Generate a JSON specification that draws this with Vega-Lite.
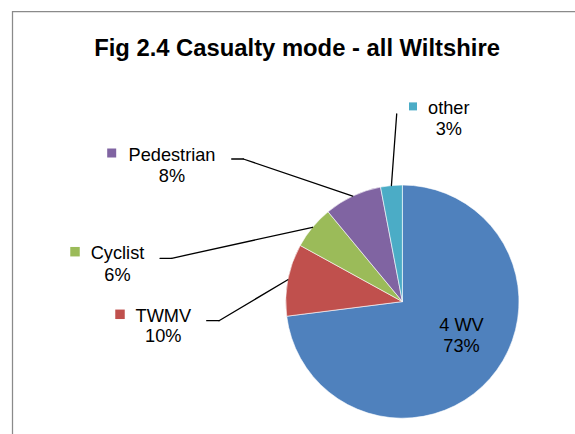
{
  "$schema": "https://vega.github.io/schema/vega-lite/v6.json",
  "width": 575,
  "height": 434,
  "autosize": {"type": "none"},
  "padding": 0,
  "background": "#ffffff",
  "title": {
    "text": "Fig 2.4 Casualty mode - all Wiltshire",
    "font": "Liberation Sans",
    "fontSize": 23.8,
    "fontWeight": "bold",
    "color": "#000000",
    "anchor": "middle",
    "frame": "group",
    "baseline": "alphabetic",
    "offset": -79.6,
    "dx": 9.5
  },
  "data": {
    "values": [
      {"mode": "4 WV", "share": 0.73, "order": 1},
      {"mode": "TWMV", "share": 0.10, "order": 2},
      {"mode": "Cyclist", "share": 0.06, "order": 3},
      {"mode": "Pedestrian", "share": 0.08, "order": 4},
      {"mode": "other", "share": 0.03, "order": 5}
    ]
  },
  "layer": [
    {
      "transform": [{"filter": "datum.order === 1"}],
      "mark": {"type": "rect", "fill": null, "stroke": "#8a8a8a", "strokeWidth": 1.25},
      "encoding": {
        "x": {"datum": -3.3428, "type": "quantitative", "scale": {"domain": [-3.45, 1.48], "nice": false, "zero": false}, "axis": null},
        "y": {"datum": 2.4874, "type": "quantitative", "scale": {"domain": [-1.135, 2.586], "nice": false, "zero": false}, "axis": null},
        "x2": {"datum": 1.6},
        "y2": {"datum": -1.25}
      }
    },
    {
      "mark": {"type": "arc", "outerRadius": 116.6, "stroke": "#ffffff", "strokeWidth": 0.6},
      "encoding": {
        "x": {"datum": 0, "type": "quantitative"},
        "y": {"datum": 0, "type": "quantitative"},
        "theta": {"field": "share", "type": "quantitative", "stack": true},
        "order": {"field": "order", "type": "quantitative"},
        "color": {
          "field": "mode",
          "type": "nominal",
          "scale": {"domain": ["4 WV", "TWMV", "Cyclist", "Pedestrian", "other"], "range": ["#4F81BD", "#C0504D", "#9BBB59", "#8064A2", "#4BACC6"]},
          "legend": null
        }
      }
    },
    {
      "transform": [{"filter": "datum.mode === 'other'"}],
      "mark": {"type": "rule", "color": "#000000", "strokeWidth": 1.3, "strokeCap": "round"},
      "encoding": {
        "x": {"datum": -0.0487, "type": "quantitative"},
        "y": {"datum": 1.6086, "type": "quantitative"},
        "x2": {"datum": -0.0941},
        "y2": {"datum": 0.9956}
      }
    },
    {
      "transform": [{"filter": "datum.mode === 'Pedestrian'"}],
      "mark": {"type": "rule", "color": "#000000", "strokeWidth": 1.3, "strokeCap": "round"},
      "encoding": {
        "x": {"datum": -1.4634, "type": "quantitative"},
        "y": {"datum": 1.2228, "type": "quantitative"},
        "x2": {"datum": -1.3639},
        "y2": {"datum": 1.2228}
      }
    },
    {
      "transform": [{"filter": "datum.mode === 'Pedestrian'"}],
      "mark": {"type": "rule", "color": "#000000", "strokeWidth": 1.3, "strokeCap": "round"},
      "encoding": {
        "x": {"datum": -1.3639, "type": "quantitative"},
        "y": {"datum": 1.2228, "type": "quantitative"},
        "x2": {"datum": -0.4258},
        "y2": {"datum": 0.9048}
      }
    },
    {
      "transform": [{"filter": "datum.mode === 'Cyclist'"}],
      "mark": {"type": "rule", "color": "#000000", "strokeWidth": 1.3, "strokeCap": "round"},
      "encoding": {
        "x": {"datum": -2.0782, "type": "quantitative"},
        "y": {"datum": 0.3714, "type": "quantitative"},
        "x2": {"datum": -1.9778},
        "y2": {"datum": 0.3714}
      }
    },
    {
      "transform": [{"filter": "datum.mode === 'Cyclist'"}],
      "mark": {"type": "rule", "color": "#000000", "strokeWidth": 1.3, "strokeCap": "round"},
      "encoding": {
        "x": {"datum": -1.9778, "type": "quantitative"},
        "y": {"datum": 0.3714, "type": "quantitative"},
        "x2": {"datum": -0.7705},
        "y2": {"datum": 0.6374}
      }
    },
    {
      "transform": [{"filter": "datum.mode === 'TWMV'"}],
      "mark": {"type": "rule", "color": "#000000", "strokeWidth": 1.3, "strokeCap": "round"},
      "encoding": {
        "x": {"datum": -1.6777, "type": "quantitative"},
        "y": {"datum": -0.1636, "type": "quantitative"},
        "x2": {"datum": -1.5723},
        "y2": {"datum": -0.1636}
      }
    },
    {
      "transform": [{"filter": "datum.mode === 'TWMV'"}],
      "mark": {"type": "rule", "color": "#000000", "strokeWidth": 1.3, "strokeCap": "round"},
      "encoding": {
        "x": {"datum": -1.5723, "type": "quantitative"},
        "y": {"datum": -0.1636, "type": "quantitative"},
        "x2": {"datum": -0.9823},
        "y2": {"datum": 0.1874}
      }
    },
    {
      "transform": [{"filter": "datum.mode === 'other'"}],
      "mark": {"type": "point", "shape": "square", "size": 64, "filled": true, "opacity": 1, "strokeWidth": 0},
      "encoding": {
        "x": {"datum": 0.0911, "type": "quantitative"},
        "y": {"datum": 1.6738, "type": "quantitative"},
        "color": {"field": "mode", "type": "nominal", "legend": null}
      }
    },
    {
      "transform": [{"filter": "datum.mode === 'Pedestrian'"}],
      "mark": {"type": "point", "shape": "square", "size": 81, "filled": true, "opacity": 1, "strokeWidth": 0},
      "encoding": {
        "x": {"datum": -2.4923, "type": "quantitative"},
        "y": {"datum": 1.2742, "type": "quantitative"},
        "color": {"field": "mode", "type": "nominal", "legend": null}
      }
    },
    {
      "transform": [{"filter": "datum.mode === 'Cyclist'"}],
      "mark": {"type": "point", "shape": "square", "size": 90, "filled": true, "opacity": 1, "strokeWidth": 0},
      "encoding": {
        "x": {"datum": -2.8069, "type": "quantitative"},
        "y": {"datum": 0.428, "type": "quantitative"},
        "color": {"field": "mode", "type": "nominal", "legend": null}
      }
    },
    {
      "transform": [{"filter": "datum.mode === 'TWMV'"}],
      "mark": {"type": "point", "shape": "square", "size": 90, "filled": true, "opacity": 1, "strokeWidth": 0},
      "encoding": {
        "x": {"datum": -2.4211, "type": "quantitative"},
        "y": {"datum": -0.1087, "type": "quantitative"},
        "color": {"field": "mode", "type": "nominal", "legend": null}
      }
    },
    {
      "transform": [{"filter": "datum.mode === 'other'"}],
      "mark": {"type": "text", "align": "center", "baseline": "alphabetic", "font": "Liberation Sans", "fontSize": 18.2, "color": "#000000"},
      "encoding": {
        "x": {"datum": 0.398, "type": "quantitative"},
        "y": {"datum": 1.6086, "type": "quantitative"},
        "text": {"field": "mode", "type": "nominal"}
      }
    },
    {
      "transform": [{"filter": "datum.mode === 'other'"}],
      "mark": {"type": "text", "align": "center", "baseline": "alphabetic", "font": "Liberation Sans", "fontSize": 18.2, "color": "#000000", "dy": 21},
      "encoding": {
        "x": {"datum": 0.398, "type": "quantitative"},
        "y": {"datum": 1.6086, "type": "quantitative"},
        "text": {"field": "share", "type": "quantitative", "format": ".0%"}
      }
    },
    {
      "transform": [{"filter": "datum.mode === 'Pedestrian'"}],
      "mark": {"type": "text", "align": "center", "baseline": "alphabetic", "font": "Liberation Sans", "fontSize": 18.2, "color": "#000000"},
      "encoding": {
        "x": {"datum": -1.9753, "type": "quantitative"},
        "y": {"datum": 1.2056, "type": "quantitative"},
        "text": {"field": "mode", "type": "nominal"}
      }
    },
    {
      "transform": [{"filter": "datum.mode === 'Pedestrian'"}],
      "mark": {"type": "text", "align": "center", "baseline": "alphabetic", "font": "Liberation Sans", "fontSize": 18.2, "color": "#000000", "dy": 20.5},
      "encoding": {
        "x": {"datum": -1.9753, "type": "quantitative"},
        "y": {"datum": 1.2056, "type": "quantitative"},
        "text": {"field": "share", "type": "quantitative", "format": ".0%"}
      }
    },
    {
      "transform": [{"filter": "datum.mode === 'Cyclist'"}],
      "mark": {"type": "text", "align": "center", "baseline": "alphabetic", "font": "Liberation Sans", "fontSize": 18.2, "color": "#000000"},
      "encoding": {
        "x": {"datum": -2.4425, "type": "quantitative"},
        "y": {"datum": 0.3628, "type": "quantitative"},
        "text": {"field": "mode", "type": "nominal"}
      }
    },
    {
      "transform": [{"filter": "datum.mode === 'Cyclist'"}],
      "mark": {"type": "text", "align": "center", "baseline": "alphabetic", "font": "Liberation Sans", "fontSize": 18.2, "color": "#000000", "dy": 21.5},
      "encoding": {
        "x": {"datum": -2.4425, "type": "quantitative"},
        "y": {"datum": 0.3628, "type": "quantitative"},
        "text": {"field": "share", "type": "quantitative", "format": ".0%"}
      }
    },
    {
      "transform": [{"filter": "datum.mode === 'TWMV'"}],
      "mark": {"type": "text", "align": "center", "baseline": "alphabetic", "font": "Liberation Sans", "fontSize": 18.2, "color": "#000000"},
      "encoding": {
        "x": {"datum": -2.0498, "type": "quantitative"},
        "y": {"datum": -0.1722, "type": "quantitative"},
        "text": {"field": "mode", "type": "nominal"}
      }
    },
    {
      "transform": [{"filter": "datum.mode === 'TWMV'"}],
      "mark": {"type": "text", "align": "center", "baseline": "alphabetic", "font": "Liberation Sans", "fontSize": 18.2, "color": "#000000", "dy": 20.7},
      "encoding": {
        "x": {"datum": -2.0498, "type": "quantitative"},
        "y": {"datum": -0.1722, "type": "quantitative"},
        "text": {"field": "share", "type": "quantitative", "format": ".0%"}
      }
    },
    {
      "transform": [{"filter": "datum.mode === '4 WV'"}],
      "mark": {"type": "text", "align": "center", "baseline": "alphabetic", "font": "Liberation Sans", "fontSize": 18.2, "color": "#000000"},
      "encoding": {
        "x": {"datum": 0.5069, "type": "quantitative"},
        "y": {"datum": -0.2519, "type": "quantitative"},
        "text": {"field": "mode", "type": "nominal"}
      }
    },
    {
      "transform": [{"filter": "datum.mode === '4 WV'"}],
      "mark": {"type": "text", "align": "center", "baseline": "alphabetic", "font": "Liberation Sans", "fontSize": 18.2, "color": "#000000", "dy": 20.7},
      "encoding": {
        "x": {"datum": 0.5069, "type": "quantitative"},
        "y": {"datum": -0.2519, "type": "quantitative"},
        "text": {"field": "share", "type": "quantitative", "format": ".0%"}
      }
    }
  ],
  "config": {
    "view": {"stroke": null},
    "axis": {"disable": true},
    "legend": {"disable": true}
  }
}
